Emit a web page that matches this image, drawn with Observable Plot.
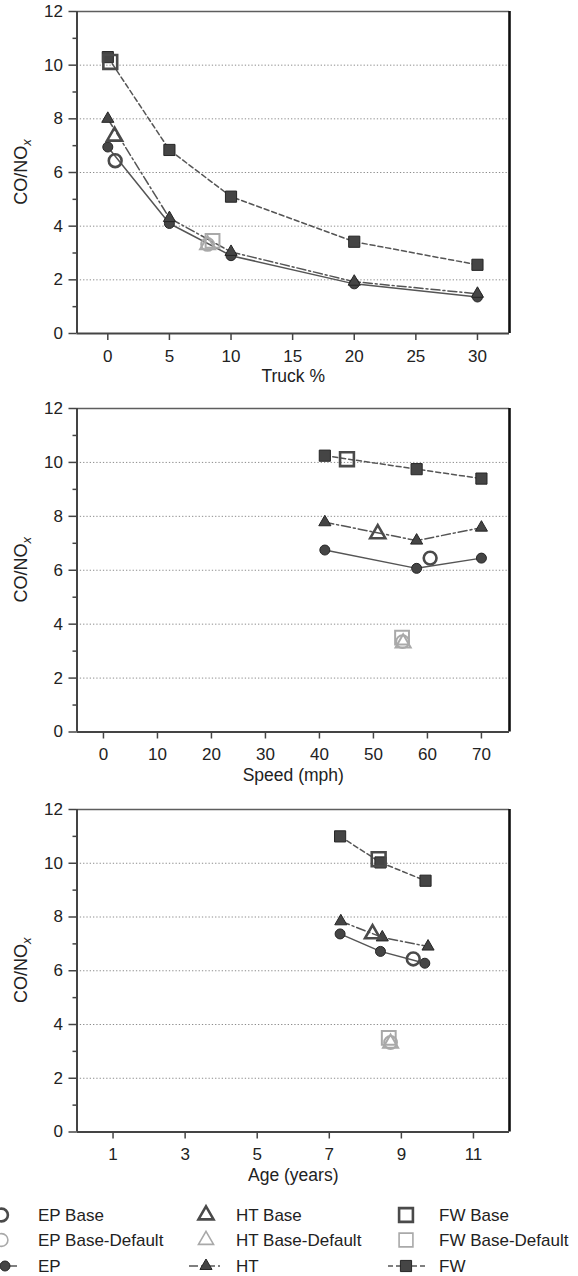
<!DOCTYPE html>
<html><head><meta charset="utf-8">
<script src="https://cdn.jsdelivr.net/npm/d3@7"></script>
<script src="https://cdn.jsdelivr.net/npm/@observablehq/plot@0.6"></script>
<style>body{margin:0;background:#fff;} svg{display:block;}</style>
</head><body><div id="root"></div>
<script>
// ---------- DATA ----------
const majorY = [0, 2, 4, 6, 8, 10, 12];
const minorY = [1, 3, 5, 7, 9, 11];
const gridYVals = [2, 4, 6, 8, 10];

// Panel 1: Truck %
const truckTicks = [0, 5, 10, 15, 20, 25, 30];
const truckX = [0, 5, 10, 20, 30];
const truckEP = [6.95, 4.1, 2.9, 1.85, 1.36];
const truckHT = [8.0, 4.3, 3.04, 1.93, 1.48];
const truckFW = [10.3, 6.84, 5.1, 3.42, 2.56];
const truckBaseX = [0.6, 0.55, 0.2];      // EP, HT, FW
const truckBaseY = [6.44, 7.35, 10.12];
const truckDefX = [8.1, 8.1, 8.5];
const truckDefY = [3.32, 3.3, 3.45];

// Panel 2: Speed (mph)
const speedTicks = [0, 10, 20, 30, 40, 50, 60, 70];
const speedX = [41, 58, 70];
const speedEP = [6.75, 6.07, 6.45];
const speedHT = [7.78, 7.1, 7.58];
const speedFW = [10.25, 9.75, 9.4];
const speedBaseX = [60.5, 50.8, 45.1];
const speedBaseY = [6.45, 7.35, 10.12];
const speedDefX = [55.4, 55.5, 55.3];
const speedDefY = [3.35, 3.3, 3.5];

// Panel 3: Age (years)
const ageTicks = [1, 3, 5, 7, 9, 11];
const ageXEP = [7.3, 8.42, 9.65];
const ageXHT = [7.32, 8.47, 9.74];
const ageXFW = [7.3, 8.42, 9.67];
const ageEP = [7.37, 6.72, 6.28];
const ageHT = [7.84, 7.24, 6.9];
const ageFW = [11.0, 10.03, 9.35];
const ageBaseX = [9.33, 8.2, 8.37];
const ageBaseY = [6.44, 7.37, 10.15];
const ageDefX = [8.7, 8.7, 8.65];
const ageDefY = [3.33, 3.3, 3.5];

const legendRows = [
  ["EP Base", "HT Base", "FW Base"],
  ["EP Base-Default", "HT Base-Default", "FW Base-Default"],
  ["EP", "HT", "FW"]
];

// ---------- STYLE ----------
const FONT = "'Liberation Sans', Arial, Helvetica, sans-serif";
const TXT = "#222";
const AX = "#444";
const LINE = "#555";
const FILL = "#454545";
const LIGHT = "#a9a9a9";
const symbols = ["circle", "triangle", "square"];
const filledR = {circle: 5, triangle: 4.5, square: 6.3};
const openR = {circle: 6.4, triangle: 5.6, square: 7.8};
const dashes = [null, "9,3,2,3", "5,3"];

const pts = (xs, ys) => xs.map((x, i) => ({x, y: ys[i]}));

function makeChart(cfg) {
  const {height, mt, mb, xDomain, xTicks, xLabel, series, baseX, baseY, defX, defY} = cfg;
  const marks = [
    Plot.gridY(gridYVals, {stroke: "#8c8c8c", strokeOpacity: 1, strokeWidth: 1, strokeDasharray: "1.3,2"}),
    Plot.ruleY([12], {stroke: "#5e5e5e", strokeWidth: 1.6}),
    Plot.ruleX([xDomain[1]], {stroke: "#111", strokeWidth: 2.6}),
    Plot.ruleX([xDomain[0]], {stroke: AX, strokeWidth: 2}),
    Plot.ruleY([0], {stroke: AX, strokeWidth: 2}),
    Plot.axisY({ticks: majorY, tickSize: 8, tickPadding: 6, stroke: AX, strokeWidth: 1.5, fontSize: 17, fill: TXT, label: null}),
    Plot.axisY({ticks: minorY, tickSize: 4, stroke: AX, strokeWidth: 1.5, fill: "none", label: null}),
    Plot.axisX({ticks: xTicks, tickSize: 7, tickPadding: 9, stroke: AX, strokeWidth: 1.5, fontSize: 17, fill: TXT, label: null}),
    Plot.text([xLabel], {frameAnchor: "bottom", dy: 48.5, fontSize: 17.5, fill: TXT, text: d => d})
  ];
  series.forEach((s, i) => {
    const data = pts(s.x, s.y);
    marks.push(Plot.line(data, {x: "x", y: "y", stroke: LINE, strokeWidth: 1.5, strokeDasharray: dashes[i]}));
  });
  series.forEach((s, i) => {
    const data = pts(s.x, s.y);
    marks.push(Plot.dot(data, {x: "x", y: "y", symbol: symbols[i], r: filledR[symbols[i]], fill: FILL, stroke: "#262626", strokeWidth: 1}));
  });
  // Base-Default (light open markers)
  [2, 1, 0].forEach(i => {
    marks.push(Plot.dot([{x: defX[i], y: defY[i]}], {x: "x", y: "y", symbol: symbols[i], r: openR[symbols[i]], fill: "none", stroke: LIGHT, strokeWidth: 2}));
  });
  // Base (dark open markers)
  [0, 1, 2].forEach(i => {
    marks.push(Plot.dot([{x: baseX[i], y: baseY[i]}], {x: "x", y: "y", symbol: symbols[i], r: openR[symbols[i]], fill: "none", stroke: "#4a4a4a", strokeWidth: 2.6}));
  });

  const svg = Plot.plot({
    width: 578, height,
    marginLeft: 76.5, marginRight: 69, marginTop: mt, marginBottom: mb,
    x: {domain: xDomain},
    y: {domain: [0, 12]},
    style: {fontFamily: FONT, fontSize: "17px", color: TXT, background: "#fff", overflow: "visible"},
    marks
  });
  const cy = (mt + (height - mb)) / 2;
  const t = d3.select(svg).append("text")
    .attr("transform", `translate(26.5, ${cy}) rotate(-90)`)
    .attr("text-anchor", "middle")
    .attr("font-size", 18)
    .attr("fill", TXT)
    .attr("font-family", FONT);
  t.append("tspan").text("CO/NO");
  t.append("tspan").attr("font-style", "italic").attr("font-size", 13).attr("dy", "0.32em").text("x");
  return svg;
}

const root = document.getElementById("root");

root.appendChild(makeChart({
  height: 394, mt: 11, mb: 61,
  xDomain: [-2.5, 32.6], xTicks: truckTicks, xLabel: "Truck %",
  series: [{x: truckX, y: truckEP}, {x: truckX, y: truckHT}, {x: truckX, y: truckFW}],
  baseX: truckBaseX, baseY: truckBaseY, defX: truckDefX, defY: truckDefY
}));
root.appendChild(makeChart({
  height: 396, mt: 14, mb: 58.5,
  xDomain: [-4.9, 75.2], xTicks: speedTicks, xLabel: "Speed (mph)",
  series: [{x: speedX, y: speedEP}, {x: speedX, y: speedHT}, {x: speedX, y: speedFW}],
  baseX: speedBaseX, baseY: speedBaseY, defX: speedDefX, defY: speedDefY
}));
root.appendChild(makeChart({
  height: 400, mt: 19, mb: 58.5,
  xDomain: [0, 12], xTicks: ageTicks, xLabel: "Age (years)",
  series: [{x: ageXEP, y: ageEP}, {x: ageXHT, y: ageHT}, {x: ageXFW, y: ageFW}],
  baseX: ageBaseX, baseY: ageBaseY, defX: ageDefX, defY: ageDefY
}));

// ---------- LEGEND ----------
const lg = d3.select(root).append("svg").attr("width", 578).attr("height", 86)
  .attr("font-family", FONT).attr("font-size", 17).style("background", "#fff");
const rowY = [25, 50, 76];
const markX = [1.5, 206, 406];
const textX = [38, 236, 439];
const d3sym = {circle: d3.symbolCircle, triangle: d3.symbolTriangle, square: d3.symbolSquare};
const symPath = (name, r) => d3.symbol().type(d3sym[name]).size(Math.PI * r * r)();
legendRows.forEach((row, ri) => {
  row.forEach((label, ci) => {
    const g = lg.append("g");
    const sym = symbols[ci];
    const y = rowY[ri];
    let mx = markX[ci];
    if (ri === 2) {
      const lines = [[4, 17], [189, 220], [388, 425]];
      if (ci === 0) mx = 5;
      g.append("line").attr("x1", lines[ci][0]).attr("x2", lines[ci][1]).attr("y1", y).attr("y2", y)
        .attr("stroke", LINE).attr("stroke-width", 1.5).attr("stroke-dasharray", dashes[ci]);
      g.append("path").attr("d", symPath(sym, filledR[sym])).attr("transform", `translate(${mx},${y})`)
        .attr("fill", FILL).attr("stroke", "#262626").attr("stroke-width", 1);
    } else {
      g.append("path").attr("d", symPath(sym, openR[sym])).attr("transform", `translate(${mx},${y})`)
        .attr("fill", "none").attr("stroke", ri === 0 ? "#4a4a4a" : LIGHT).attr("stroke-width", ri === 0 ? 2.6 : 1.6);
    }
    g.append("text").attr("x", textX[ci]).attr("y", y).attr("dy", "0.35em").attr("fill", TXT).text(label);
  });
});
</script></body></html>
